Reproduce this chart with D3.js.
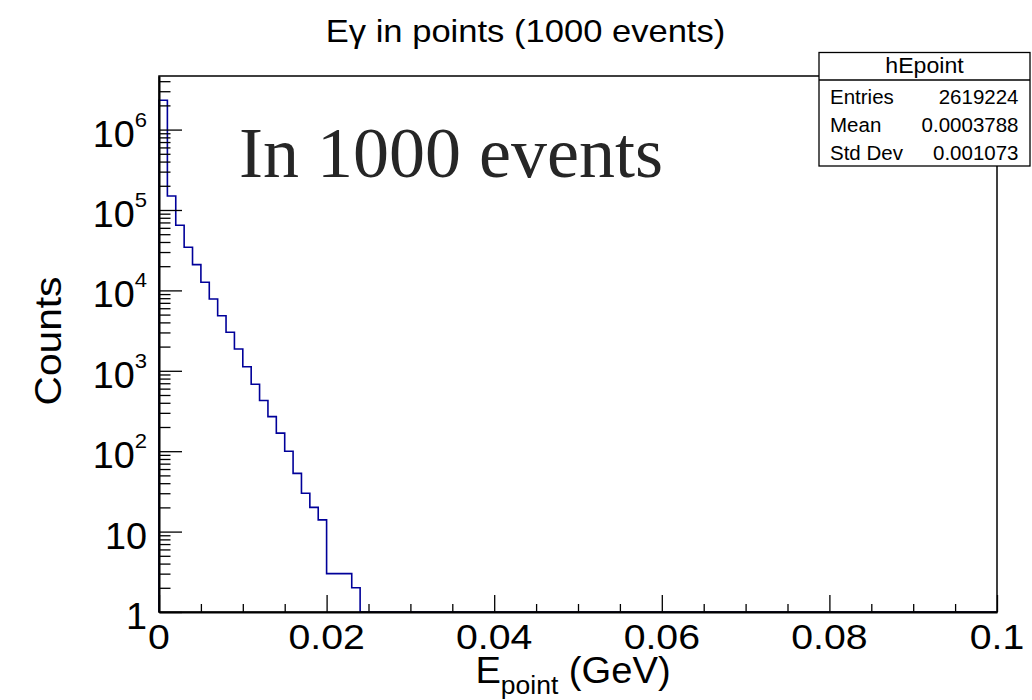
<!DOCTYPE html>
<html>
<head>
<meta charset="utf-8">
<script src="https://cdn.jsdelivr.net/npm/d3@7"></script>
<style>
  body { margin: 0; background: #fff; }
  text { font-family: "Liberation Sans", Arial, Helvetica, sans-serif; fill: #000; }
</style>
</head>
<body>
<svg id="chart" width="1032" height="700"></svg>
<script>
// histogram hEpoint, 100 bins of 0.001 GeV from 0 to 0.1 (bins after index 23 are empty)
const binWidth = 0.001;
const counts = [2317385, 149000, 64500, 34400, 20900, 12600, 7820, 4845, 3011, 1867,
                1125, 679, 427, 269, 168, 100, 53, 30, 20, 14, 3, 3, 3, 2];
const xDomain = [0, 0.1];
const yDomain = [1, 4.64e6];
const xMajorTicks = [0, 0.02, 0.04, 0.06, 0.08, 0.1];
const xTickLabels = ["0", "0.02", "0.04", "0.06", "0.08", "0.1"];
const yExponents = [0, 1, 2, 3, 4, 5, 6];
const statsTitle = "hEpoint";
const statsRows = [["Entries", "2619224"], ["Mean", "0.0003788"], ["Std Dev", "0.001073"]];

const svg = d3.select("#chart");
const frame = {left: 159, right: 997, top: 76, bottom: 612};

const x = d3.scaleLinear().domain(xDomain).range([frame.left, frame.right]);
const y = d3.scaleLog().domain(yDomain).range([frame.bottom, frame.top]);

// text drawn a bit wider than the font, like the original canvas
function stretched(parent, px, py, anchor, sx, size) {
  return parent.append("text")
    .attr("transform", `translate(${px},${py}) scale(${sx},1)`)
    .attr("text-anchor", anchor)
    .style("font-size", size + "px");
}

// histogram outline
const pts = [[0, yDomain[0]]];
counts.forEach((c, i) => {
  pts.push([i * binWidth, c]);
  pts.push([(i + 1) * binWidth, c]);
});
pts.push([counts.length * binWidth, yDomain[0]]);
pts.push([xDomain[1], yDomain[0]]);

const line = d3.line().x(d => x(d[0])).y(d => y(Math.max(d[1], yDomain[0])));
svg.append("path")
  .attr("d", line(pts))
  .attr("fill", "none")
  .attr("stroke", "#000099")
  .attr("stroke-width", 1.6);

// frame
svg.append("rect")
  .attr("x", frame.left).attr("y", frame.top)
  .attr("width", frame.right - frame.left).attr("height", frame.bottom - frame.top)
  .attr("fill", "none").attr("stroke", "#000").attr("stroke-width", 1.5);

// x axis ticks (pointing up into the frame)
const xMinor = d3.range(0, 0.1 + 1e-9, 0.005).filter(v => Math.round(v * 1000) % 20 !== 0);
svg.append("g")
  .attr("transform", `translate(0,${frame.bottom})`)
  .call(d3.axisBottom(x).tickValues(xMinor).tickSizeInner(-8).tickSizeOuter(0).tickFormat(""))
  .call(g => g.select(".domain").remove());
svg.append("g")
  .attr("transform", `translate(0,${frame.bottom})`)
  .call(d3.axisBottom(x).tickValues(xMajorTicks).tickSizeInner(-17).tickSizeOuter(0).tickFormat(""))
  .call(g => g.select(".domain").attr("stroke-width", 2));

xMajorTicks.forEach((v, i) => {
  stretched(svg, x(v), 649, "middle", 1.09, 36).text(xTickLabels[i]);
});

// y axis ticks
const yAll = y.ticks();
const isPow = v => Math.abs(Math.log10(v) - Math.round(Math.log10(v))) < 1e-9;
svg.append("g").attr("transform", `translate(${frame.left},0)`)
  .call(d3.axisLeft(y).tickValues(yAll.filter(v => !isPow(v))).tickSizeInner(-11.5).tickSizeOuter(0).tickFormat(""))
  .call(g => g.select(".domain").remove());
svg.append("g").attr("transform", `translate(${frame.left},0)`)
  .call(d3.axisLeft(y).tickValues(yExponents.map(e => Math.pow(10, e))).tickSizeInner(-23).tickSizeOuter(0).tickFormat(""))
  .call(g => g.select(".domain").attr("stroke-width", 2));
svg.selectAll(".tick line").attr("stroke-width", 1.3);

yExponents.forEach(e => {
  const t = stretched(svg, 147, y(Math.pow(10, e)) + 17, "end", 1.05, 36);
  if (e === 0) t.text("1");
  else if (e === 1) t.text("10");
  else {
    t.append("tspan").text("10");
    t.append("tspan").attr("dy", -20).style("font-size", "21px").text(e);
  }
});

// titles
stretched(svg, 525.5, 42, "middle", 1.08, 32).text("E\u03b3 in points (1000 events)");

const xt = stretched(svg, 573, 683, "middle", 1.06, 36);
xt.append("tspan").text("E");
xt.append("tspan").attr("dy", 11).style("font-size", "25px").text("point");
xt.append("tspan").attr("dy", -11).text(" (GeV)");

svg.append("text")
  .attr("transform", `translate(61,341) rotate(-90) scale(1.1,1)`)
  .attr("text-anchor", "middle")
  .style("font-size", "37px")
  .text("Counts");

// annotation
svg.append("text")
  .attr("x", 239).attr("y", 177)
  .style("font-family", "'Liberation Serif', 'Times New Roman', serif")
  .style("font-size", "72px")
  .style("fill", "#262626")
  .text("In 1000 events");

// stats box
const box = {x: 819, y: 52.5, w: 211, h: 113.5, sep: 80};
const sb = svg.append("g");
sb.append("rect")
  .attr("x", box.x).attr("y", box.y).attr("width", box.w).attr("height", box.h)
  .attr("fill", "#fff").attr("stroke", "#000").attr("stroke-width", 1.3);
sb.append("line")
  .attr("x1", box.x).attr("x2", box.x + box.w).attr("y1", box.sep).attr("y2", box.sep)
  .attr("stroke", "#000").attr("stroke-width", 1.3);
stretched(sb, box.x + box.w / 2, 72.5, "middle", 1.05, 22).text(statsTitle);
statsRows.forEach((r, i) => {
  const by = 103.5 + i * 28;
  stretched(sb, 830, by, "start", 1.0, 20.5).text(r[0]);
  stretched(sb, 1018.5, by, "end", 1.0, 20.5).text(r[1]);
});
</script>
</body>
</html>
